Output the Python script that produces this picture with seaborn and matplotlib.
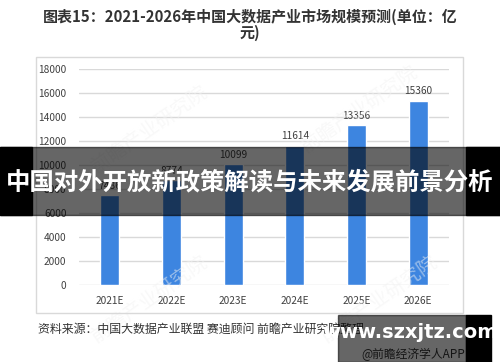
import pandas as pd
import seaborn as sns
import matplotlib.pyplot as plt
from matplotlib.patches import Rectangle

years = ["2021E", "2022E", "2023E", "2024E", "2025E", "2026E"]
market_size = [7486, 8774, 10099, 11614, 13356, 15360]
y_ticks = [0, 2000, 4000, 6000, 8000, 10000, 12000, 14000, 16000, 18000]

title = "图表15：2021-2026年中国大数据产业市场规模预测(单位：亿\n元)"
source = "资料来源：中国大数据产业联盟 赛迪顾问 前瞻产业研究院整理"
banner = "中国对外开放新政策解读与未来发展前景分析"

df = pd.DataFrame({"year": years, "size": market_size})

sns.set_style("white")
plt.rcParams["font.family"] = ["Noto Sans CJK SC", "DejaVu Sans"]

fig = plt.figure(figsize=(5, 3.62), dpi=100)
W, H = 500, 362

def fx(x):
    return x / W

def fy(y):
    return 1 - y / H

# chart frame
fig.patches.append(Rectangle((fx(36), fy(313)), fx(463) - fx(36), fy(57) - fy(313),
                             transform=fig.transFigure, fill=False,
                             edgecolor="#d9d9d9", lw=1))

ax = fig.add_axes([fx(79), fy(285), fx(449) - fx(79), fy(69) - fy(285)])
sns.barplot(data=df, x="year", y="size", color="#3d85e0", width=0.31,
            saturation=1, ax=ax)
ax.set_ylim(0, 18000)
ax.set_yticks(y_ticks)
ax.set_yticklabels([str(t) for t in y_ticks])
ax.yaxis.grid(True, color="#d9d9d9", lw=1)
ax.set_axisbelow(True)
for s in ax.spines.values():
    s.set_visible(False)
ax.tick_params(axis="both", length=0, labelsize=7.3, labelcolor="#404040")
ax.tick_params(axis="y", pad=9)
ax.tick_params(axis="x", pad=8)
ax.set_xlabel("")
ax.set_ylabel("")
for i, v in enumerate(market_size):
    ax.text(i, v + 350, str(v), ha="center", va="bottom", fontsize=7.3, color="#404040")

# faint watermarks
for wx, wy in [(150, 130), (360, 110), (150, 300), (380, 300)]:
    fig.text(fx(wx), fy(wy), "前瞻产业研究院", rotation=35, fontsize=14,
             color="#f2f2f2", ha="center", va="center", alpha=0.5, zorder=0)

fig.text(0.5, fy(25), title, ha="center", va="center", fontsize=10.8,
         fontweight="bold", color="#333333", linespacing=1.0)
fig.text(fx(38), fy(329), source, ha="left", va="center", fontsize=8.6, color="#333333")

# banner overlay
fig.patches.append(Rectangle((0, fy(215)), 1, fy(147) - fy(215),
                             transform=fig.transFigure, color="black", alpha=0.6, zorder=5))
fig.patches.append(Rectangle((0, fy(215)), fx(32), fy(147) - fy(215),
                             transform=fig.transFigure, color="black", zorder=5))
fig.patches.append(Rectangle((fx(466), fy(215)), 1 - fx(466), fy(147) - fy(215),
                             transform=fig.transFigure, color="black", zorder=5))
fig.text(0.5, fy(182), banner, ha="center", va="center", fontsize=17.6,
         fontweight="bold", color="white", zorder=6)

# bottom-right logo
fig.text(fx(413), fy(354), "@前瞻经济学人APP", ha="center", va="center",
         fontsize=8.5, color="#333333")
fig.patches.append(Rectangle((fx(338), 0), fx(466) - fx(338), fy(315),
                             transform=fig.transFigure, color="black", alpha=0.6, zorder=5))
fig.patches.append(Rectangle((fx(466), 0), fx(491) - fx(466), fy(315),
                             transform=fig.transFigure, color="black", zorder=5))
fig.text(fx(410), fy(332), "www.szxjtz.com", ha="center", va="center",
         fontsize=14, fontweight="bold", color="white", family="DejaVu Sans", zorder=6)

fig.savefig("out.png", dpi=100)
